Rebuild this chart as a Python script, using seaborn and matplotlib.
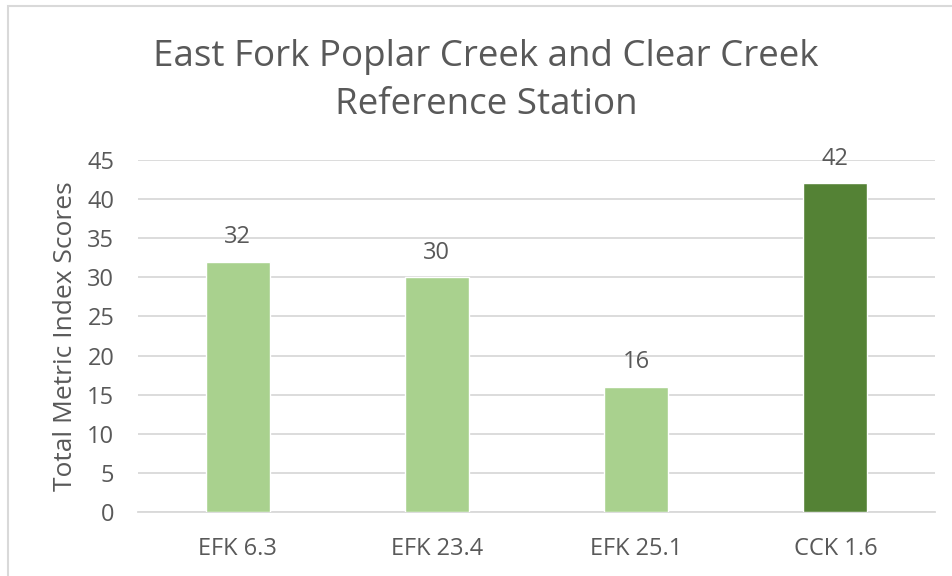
import matplotlib
matplotlib.use("Agg")
import matplotlib.pyplot as plt
import seaborn as sns
import pandas as pd
from matplotlib.patches import Rectangle

# chart data
stations = ['EFK 6.3', 'EFK 23.4', 'EFK 25.1', 'CCK 1.6']
scores = [32, 30, 16, 42]
bar_colors = ['#A9D18E', '#A9D18E', '#A9D18E', '#548235']
y_ticks = [0, 5, 10, 15, 20, 25, 30, 35, 40, 45]

sns.set_theme(style='white')
plt.rcParams['font.family'] = ['Open Sans', 'DejaVu Sans']
text_color = '#595959'

df = pd.DataFrame({'station': stations, 'score': scores})

fig = plt.figure(figsize=(9.52, 5.76), dpi=100)
ax = fig.add_axes([138 / 952, 1 - 512 / 576, (935 - 138) / 952, (512 - 160) / 576])

sns.barplot(data=df, x='station', y='score', hue='station', palette=bar_colors,
            width=0.32, legend=False, ax=ax, saturation=1, zorder=3)

ax.set_ylim(0, 45)
ax.set_yticks(y_ticks)
ax.set_xlim(-0.5, len(stations) - 0.5)
ax.yaxis.grid(True, color='#D9D9D9', linewidth=1.3, zorder=0)
ax.set_axisbelow(True)
for s in ax.spines.values():
    s.set_visible(False)
ax.spines['bottom'].set_visible(True)
ax.spines['bottom'].set_color('#D9D9D9')
ax.spines['bottom'].set_linewidth(1.3)

ax.tick_params(axis='both', length=0, labelsize=17, colors=text_color)
ax.tick_params(axis='y', pad=17)
ax.tick_params(axis='x', pad=18)
ax.set_xlabel('')
ax.set_ylabel('Total Metric Index Scores', fontsize=19, color=text_color, labelpad=7)

for i, v in enumerate(scores):
    ax.annotate(str(v), (i, v), xytext=(0, 9), textcoords='offset points',
                ha='center', va='bottom', fontsize=17, color=text_color)

fig.text(486 / 952, 1 - 81 / 576, 'East Fork Poplar Creek and Clear Creek\nReference Station',
         ha='center', va='center', fontsize=26.5, color=text_color, linespacing=1.42)

# outer chart border
fig.patches.append(Rectangle((7.5 / 952, -0.05), 1.2, 1 - 5.5 / 576 + 0.05,
                             transform=fig.transFigure, fill=False,
                             edgecolor='#D9D9D9', linewidth=1.5))

fig.savefig('out.png', dpi=100, facecolor='white')
